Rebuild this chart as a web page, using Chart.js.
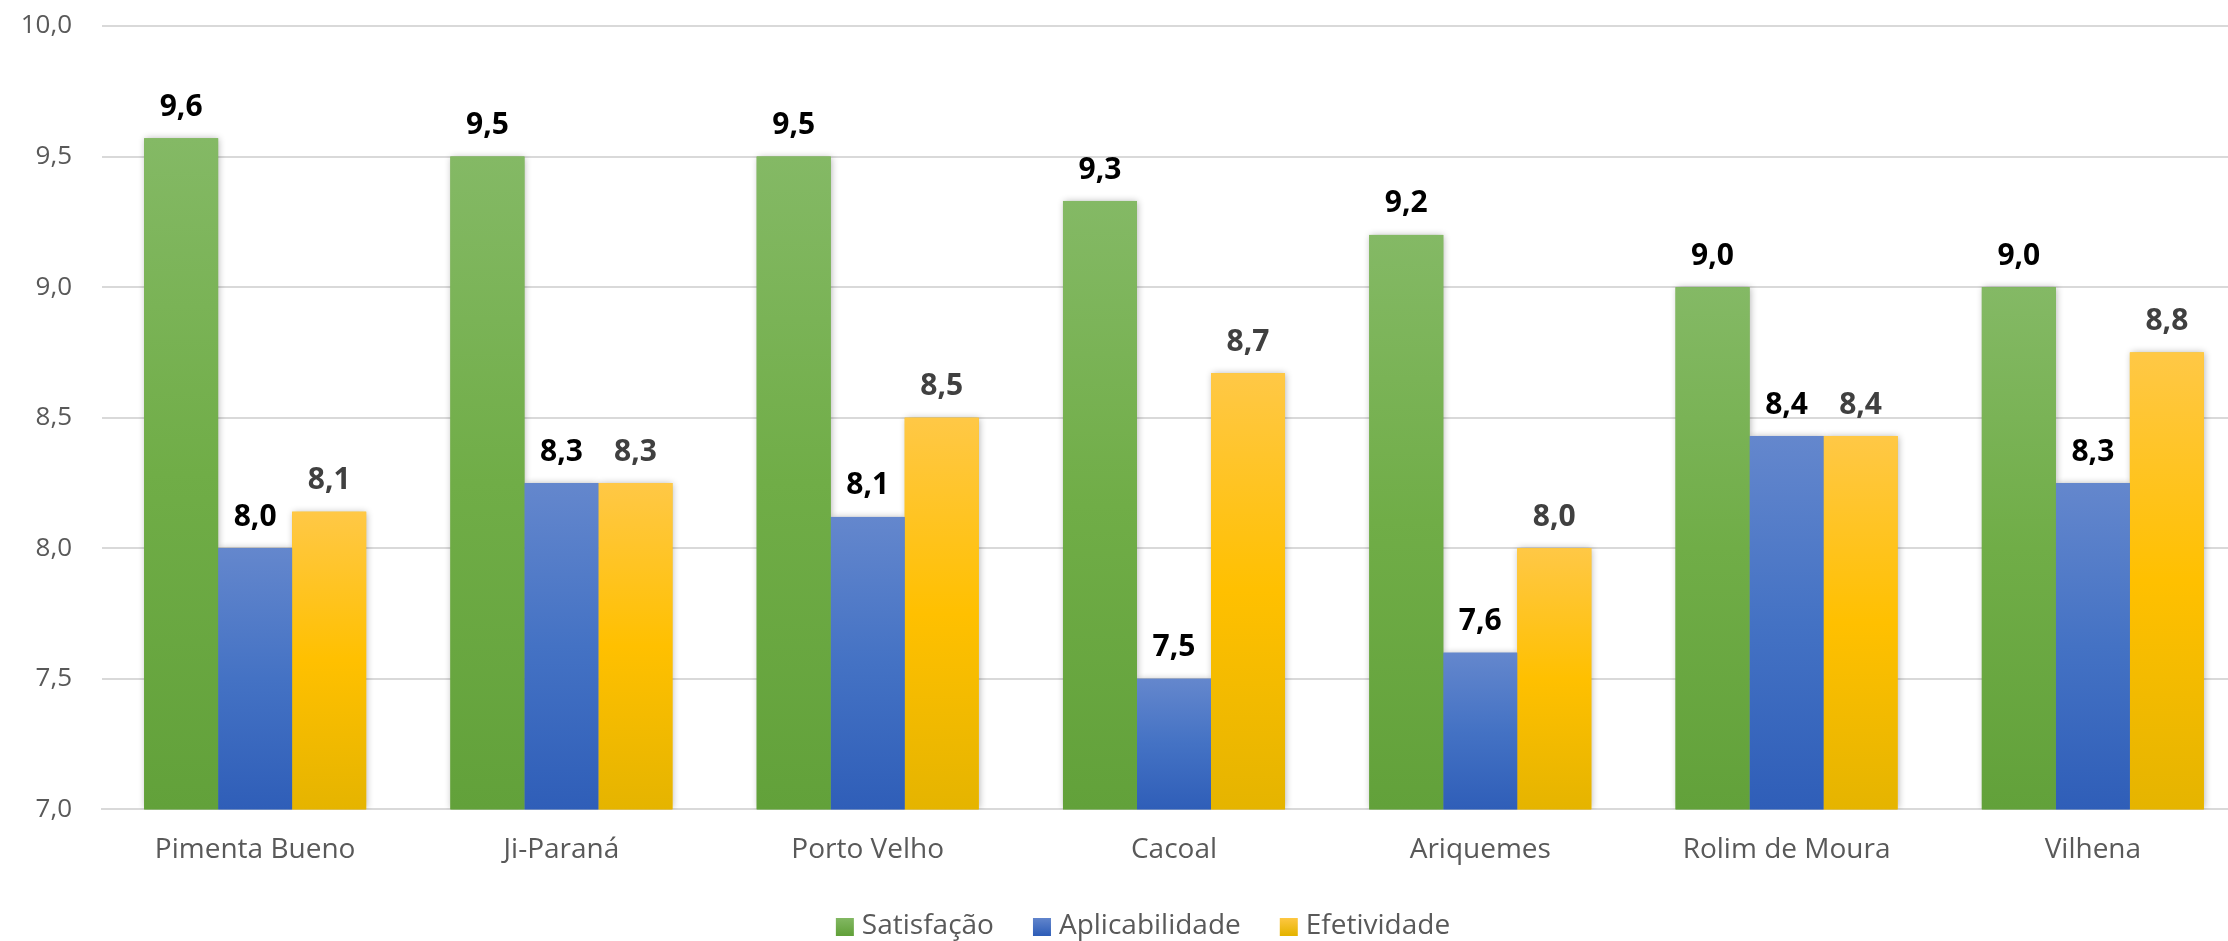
<!DOCTYPE html>
<html>
<head>
<meta charset="utf-8">
<script src="https://cdn.jsdelivr.net/npm/chart.js@4.4.1/dist/chart.umd.min.js"></script>
<style>
  html, body { margin: 0; padding: 0; background: #ffffff; overflow: hidden; }
  #wrap { position: relative; width: 2248px; height: 941px; }
</style>
</head>
<body>
<div id="wrap"><canvas id="chart"></canvas></div>
<script>
// Cities (categories)
const cities = ['Pimenta Bueno', 'Ji-Paraná', 'Porto Velho', 'Cacoal', 'Ariquemes', 'Rolim de Moura', 'Vilhena'];

// Scores per indicator
const satisfacao     = [9.57, 9.50, 9.50, 9.33, 9.20, 9.00, 9.00];
const aplicabilidade = [8.00, 8.25, 8.12, 7.50, 7.60, 8.43, 8.25];
const efetividade    = [8.14, 8.25, 8.50, 8.67, 8.00, 8.43, 8.75];

// Series names
const seriesNames = ['Satisfação', 'Aplicabilidade', 'Efetividade'];

// Y axis range and step
const yMin = 7.0;
const yMax = 10.0;
const yStep = 0.5;

const FONT = "'Open Sans', 'Noto Sans', sans-serif";

// Gradient stops per series: top, middle, bottom
const palettes = [
  { solid: '#70ad47', stops: ['#84b965', '#70ad47', '#62a13a'], label: '#000000' },
  { solid: '#4472c4', stops: ['#6487cd', '#4472c4', '#2f5eb8'], label: '#000000' },
  { solid: '#ffc000', stops: ['#ffc846', '#ffc000', '#e5b400'], label: '#404040' }
];

function fmt(v) { return v.toFixed(1).replace('.', ','); }

function barFill(p) {
  return function (ctx) {
    const chart = ctx.chart;
    const area = chart.chartArea;
    if (!area || ctx.type !== 'data') return p.solid;
    const y = chart.scales.y;
    const top = y.getPixelForValue(ctx.raw);
    const bottom = area.bottom;
    if (!(bottom > top)) return p.solid;
    const g = chart.ctx.createLinearGradient(0, top, 0, bottom);
    g.addColorStop(0, p.stops[0]);
    g.addColorStop(0.5, p.stops[1]);
    g.addColorStop(1, p.stops[2]);
    return g;
  };
}

// Soft shadow behind every bar, painted before the bars themselves
const barShadow = {
  id: 'barShadow',
  beforeDatasetsDraw(chart) {
    const ctx = chart.ctx;
    const area = chart.chartArea;
    ctx.save();
    ctx.beginPath();
    ctx.rect(area.left - 20, area.top - 20, area.right - area.left + 40, area.bottom - area.top + 20);
    ctx.clip();
    ctx.shadowColor = 'rgba(0,0,0,0.30)';
    ctx.shadowBlur = 7;
    ctx.shadowOffsetX = 1;
    ctx.shadowOffsetY = 0;
    chart.data.datasets.forEach((ds, i) => {
      const meta = chart.getDatasetMeta(i);
      ctx.fillStyle = palettes[i].solid;
      meta.data.forEach(bar => {
        const w = bar.width;
        const bottom = Math.min(bar.base, area.bottom);
        ctx.fillRect(bar.x - w / 2, bar.y, w, bottom - bar.y);
      });
    });
    ctx.restore();
  }
};

// Value labels above each bar
const valueLabels = {
  id: 'valueLabels',
  afterDatasetsDraw(chart) {
    const ctx = chart.ctx;
    ctx.save();
    ctx.font = "bold 30px " + FONT;
    ctx.textAlign = 'center';
    ctx.textBaseline = 'middle';
    chart.data.datasets.forEach((ds, i) => {
      const meta = chart.getDatasetMeta(i);
      ctx.fillStyle = palettes[i].label;
      meta.data.forEach((bar, j) => {
        ctx.fillText(fmt(ds.data[j]), bar.x, bar.y - 31);
      });
    });
    ctx.restore();
  }
};

// Legend row under the axis
const legendRow = {
  id: 'legendRow',
  afterDraw(chart) {
    const ctx = chart.ctx;
    const box = 18, gap = 8, spacing = 39;
    const cy = 926;
    const cx = 1143;
    ctx.save();
    ctx.font = "28px " + FONT;
    ctx.textBaseline = 'middle';
    const widths = seriesNames.map(n => ctx.measureText(n).width);
    let total = 0;
    widths.forEach((w, i) => { total += box + gap + w + (i < widths.length - 1 ? spacing : 0); });
    let x = cx - total / 2;
    seriesNames.forEach((n, i) => {
      const g = ctx.createLinearGradient(0, cy - box / 2, 0, cy + box / 2);
      g.addColorStop(0, palettes[i].stops[0]);
      g.addColorStop(1, palettes[i].stops[2]);
      ctx.fillStyle = g;
      ctx.fillRect(x, cy - box / 2 + 1, box, box);
      x += box + gap;
      ctx.fillStyle = '#595959';
      ctx.fillText(n, x, cy);
      x += widths[i] + spacing;
    });
    ctx.restore();
  }
};

new Chart(document.getElementById('chart'), {
  type: 'bar',
  data: {
    labels: cities,
    datasets: [
      { label: seriesNames[0], data: satisfacao,     backgroundColor: barFill(palettes[0]) },
      { label: seriesNames[1], data: aplicabilidade, backgroundColor: barFill(palettes[1]) },
      { label: seriesNames[2], data: efetividade,    backgroundColor: barFill(palettes[2]) }
    ]
  },
  options: {
    responsive: true,
    maintainAspectRatio: false,
    animation: false,
    devicePixelRatio: 1,
    layout: { padding: { top: 26, right: 2, bottom: 50, left: 0 } },
    datasets: {
      bar: { barPercentage: 1.0, categoryPercentage: 0.725, borderWidth: 0 }
    },
    plugins: {
      legend: { display: false },
      tooltip: { enabled: false }
    },
    scales: {
      x: {
        grid: { display: false, drawTicks: false },
        border: { display: true, color: '#d9d9d9', width: 2 },
        ticks: { color: '#595959', font: { family: FONT, size: 28 }, padding: 24, maxRotation: 0 }
      },
      y: {
        min: yMin,
        max: yMax,
        grid: { color: '#d9d9d9', lineWidth: 2, drawTicks: false },
        border: { display: false },
        ticks: {
          stepSize: yStep,
          color: '#595959',
          font: { family: FONT, size: 26 },
          padding: 30,
          callback: v => fmt(v)
        },
        afterFit(scale) {
          scale.width = 102;
          scale.paddingTop = 0;
          scale.paddingBottom = 0;
        }
      }
    }
  },
  plugins: [barShadow, valueLabels, legendRow]
});
</script>
</body>
</html>
